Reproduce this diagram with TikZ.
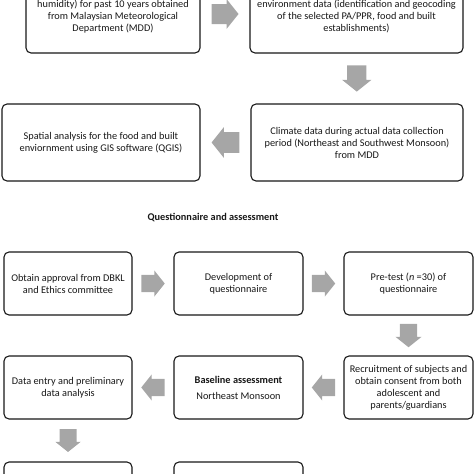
\documentclass[tikz,border=0pt]{standalone}
\usepackage{fontspec}
\setmainfont{Carlito}
\usetikzlibrary{calc}
\definecolor{flowcolor0000}{RGB}{255,255,255}
\definecolor{flowcolor0001}{RGB}{24,24,24}
\definecolor{flowcolor0002}{RGB}{166,166,166}
\begin{document}
\begin{tikzpicture}[yscale=-1
,boxstyle/.style={draw=flowcolor0001,fill=flowcolor0000,line width=1.1pt,rounded corners=5pt,align=center,inner sep=0pt,font=\fontsize{10.3pt}{12pt}\selectfont,text=flowcolor0001}
,blockarrow/.pic={\fill[flowcolor0002] (-13.5pt,-10pt) -- (1.5pt,-10pt) -- (1.5pt,-15pt) -- (13.5pt,0pt) -- (1.5pt,15pt) -- (1.5pt,10pt) -- (-13.5pt,10pt) -- cycle;}
]
\clip (0pt,0pt) rectangle (474pt,474pt);
\node[boxstyle,minimum width=174pt,minimum height=78pt] (mddbox) at (113pt,14pt) {~\\humidity) for past 10 years obtained\\from Malaysian Meteorological\\Department (MDD)};
\node[boxstyle,minimum width=213pt,minimum height=78pt] (envbox) at (356.5pt,14pt) {~\\environment data (identification and geocoding\\of the selected PA/PPR, food and built\\establishments)};
\node[boxstyle,minimum width=198pt,minimum height=77pt] (spatialbox) at (101pt,142.5pt) {Spatial analysis for the food and built\\enviornment using GIS software (QGIS)};
\node[boxstyle,minimum width=212pt,minimum height=77pt] (climatebox) at (357pt,142.5pt) {Climate data during actual data collection\\period (Northeast and Southwest Monsoon)\\from MDD};
\node[font=\fontsize{10.3pt}{12pt}\selectfont\bfseries,text=flowcolor0001] (qtitle) at (213pt,218pt) {Questionnaire and assessment};
\node[boxstyle,minimum width=128pt,minimum height=63pt] (approvalbox) at (68pt,283.5pt) {Obtain approval from DBKL\\and Ethics committee};
\node[boxstyle,minimum width=129pt,minimum height=63pt] (developbox) at (238.5pt,283.5pt) {Development of\\questionnaire};
\node[boxstyle,minimum width=129pt,minimum height=63pt] (pretestbox) at (408.5pt,283.5pt) {Pre-test (\textit{n} =30) of\\questionnaire};
\node[boxstyle,minimum width=128pt,minimum height=63pt] (entrybox) at (68pt,387.5pt) {Data entry and preliminary\\data analysis};
\node[boxstyle,minimum width=129pt,minimum height=63pt] (baselinebox) at (238.5pt,387.5pt) {\textbf{Baseline assessment}\\[4pt]Northeast Monsoon};
\node[boxstyle,minimum width=129pt,minimum height=63pt] (recruitbox) at (408.5pt,387.5pt) {Recruitment of subjects and\\obtain consent from both\\adolescent and\\parents/guardians};
\node[boxstyle,minimum width=128pt,minimum height=63pt] (nextleftbox) at (68pt,493.5pt) {};
\node[boxstyle,minimum width=129pt,minimum height=63pt] (nextmidbox) at (238.5pt,493.5pt) {};
\pic (arr1) at ($(mddbox.east)!0.5!(envbox.west)$) {blockarrow};
\pic[rotate=270,scale=0.97] (arr2) at ($(envbox.south)!0.5!(climatebox.north)$) {blockarrow};
\pic[rotate=180,scale=1.03] (arr3) at ($(climatebox.west)!0.5!(spatialbox.east)$) {blockarrow};
\pic[scale=0.87] (arr4) at ($(approvalbox.east)!0.5!(developbox.west)$) {blockarrow};
\pic[scale=0.87] (arr5) at ($(developbox.east)!0.5!(pretestbox.west)$) {blockarrow};
\pic[rotate=270,scale=0.87] (arr6) at ($(pretestbox.south)!0.5!(recruitbox.north)$) {blockarrow};
\pic[rotate=180,scale=0.87] (arr7) at ($(recruitbox.west)!0.5!(baselinebox.east)$) {blockarrow};
\pic[rotate=180,scale=0.87] (arr8) at ($(baselinebox.west)!0.5!(entrybox.east)$) {blockarrow};
\pic[rotate=270,scale=0.85] (arr9) at ($(entrybox.south)!0.5!(nextleftbox.north)$) {blockarrow};
\end{tikzpicture}
\end{document}
